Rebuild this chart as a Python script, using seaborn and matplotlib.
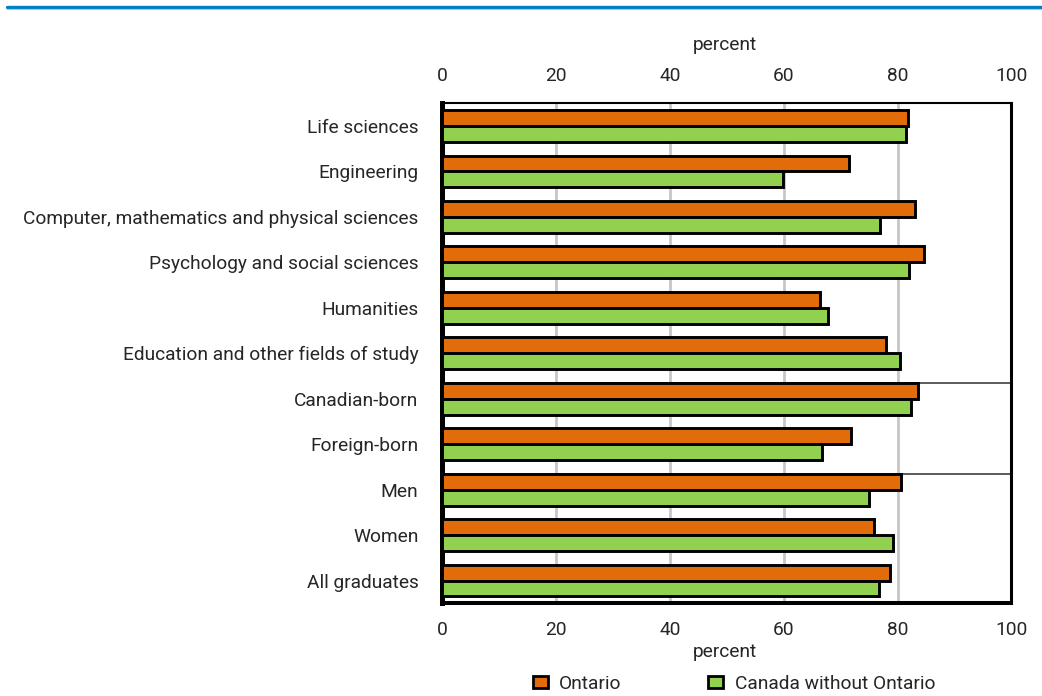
import matplotlib
matplotlib.use("Agg")
import matplotlib.pyplot as plt
import seaborn as sns
import pandas as pd
from matplotlib.patches import Patch
from matplotlib.lines import Line2D

# Share of graduates, by field of study and group (percent)
categories = [
    "Life sciences",
    "Engineering",
    "Computer, mathematics and physical sciences",
    "Psychology and social sciences",
    "Humanities",
    "Education and other fields of study",
    "Canadian-born",
    "Foreign-born",
    "Men",
    "Women",
    "All graduates",
]
ontario = [81.8, 71.5, 83.1, 84.6, 66.3, 77.9, 83.5, 71.9, 80.6, 75.8, 78.6]
canada_without_ontario = [81.4, 59.9, 76.9, 82.0, 67.7, 80.4, 82.4, 66.8, 75.0, 79.2, 76.7]
series_names = ["Ontario", "Canada without Ontario"]
x_ticks = [0, 20, 40, 60, 80, 100]
axis_label = "percent"

ORANGE = "#E36C0A"
GREEN = "#92D050"
TEXT = "#262626"
FS = 13.8

sns.set_theme(style="white")
plt.rcParams["font.family"] = ["Roboto", "DejaVu Sans"]

df = pd.DataFrame({
    "category": categories * 2,
    "value": ontario + canada_without_ontario,
    "series": [series_names[0]] * len(categories) + [series_names[1]] * len(categories),
})

fig = plt.figure(figsize=(10.42, 6.96), dpi=100)
ax = fig.add_axes([0.4242, 0.1332, 0.5465, 0.7184])

sns.barplot(
    data=df, y="category", x="value", hue="series",
    order=categories, hue_order=series_names,
    palette=[ORANGE, GREEN], saturation=1, orient="h",
    width=0.7, gap=0, edgecolor="black", linewidth=2.1,
    legend=False, ax=ax, zorder=3,
)

ax.set_xlim(0, 100)
ax.set_xticks(x_ticks)
ax.set_xticklabels([str(t) for t in x_ticks])
ax.set_xlabel("")
ax.set_ylabel("")

# vertical gridlines behind the bars
ax.set_axisbelow(True)
for t in x_ticks[1:-1]:
    ax.axvline(t, color="#c6c6c6", lw=2.0, zorder=1)

# separators between the field, birthplace and sex groups
for y in (5.65, 7.65):
    ax.axhline(y, color="#404040", lw=1.2, zorder=2)

ax.tick_params(axis="x", top=False, bottom=False, labeltop=True, labelbottom=True,
               pad=13, labelsize=FS, labelcolor=TEXT, length=0)
ax.tick_params(axis="y", left=False, length=0, pad=17, labelsize=FS, labelcolor=TEXT)

for side, lw in (("left", 3.6), ("bottom", 2.9), ("top", 1.5), ("right", 2.2)):
    ax.spines[side].set_visible(True)
    ax.spines[side].set_color("black")
    ax.spines[side].set_linewidth(lw)

fig.text(0.696, 1 - 45 / 696, axis_label, ha="center", va="center", fontsize=FS, color=TEXT)
fig.text(0.696, 1 - 652 / 696, axis_label, ha="center", va="center", fontsize=FS, color=TEXT)

# header rule
fig.add_artist(Line2D([0.007, 1.0], [1 - 6.5 / 696, 1 - 6.5 / 696], transform=fig.transFigure,
                      color="#0080BF", lw=2.4))
fig.add_artist(Line2D([0.007, 1.0], [1 - 9 / 696, 1 - 9 / 696], transform=fig.transFigure,
                      color="#8FD0EE", lw=0.8))

handles = [Patch(facecolor=ORANGE, edgecolor="black", linewidth=2.0),
           Patch(facecolor=GREEN, edgecolor="black", linewidth=2.0)]
fig.legend(handles, series_names, loc="center", bbox_to_anchor=(734 / 1042, 1 - 684 / 696),
           ncol=2, frameon=False, handlelength=0.8, handleheight=0.6, handletextpad=0.6,
           columnspacing=4.5, fontsize=FS, labelcolor=TEXT)

fig.savefig("out.png", dpi=100, facecolor="white")
